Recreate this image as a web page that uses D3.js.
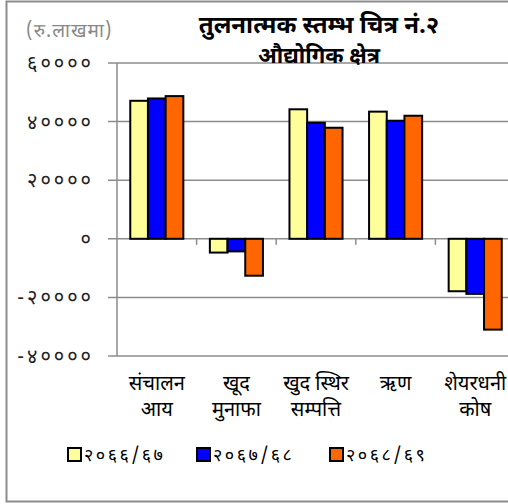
<!DOCTYPE html>
<html>
<head>
<meta charset="utf-8">
<title>तुलनात्मक स्तम्भ चित्र</title>
<script src="https://d3js.org/d3.v7.min.js"></script>
<style>
body { margin: 0; background: #fff; }
svg text { font-family: "Noto Sans Devanagari", "Lohit Devanagari", "FreeSans", "Noto Sans", sans-serif; }
.grid line { stroke: #8c8c8c; stroke-width: 1.5; }
.bar { stroke: #000; stroke-width: 2; }
</style>
</head>
<body>
<svg width="508" height="504"></svg>
<script>

var categories = [
  ["संचालन", "आय"],
  ["खूद", "मुनाफा"],
  ["खुद स्थिर", "सम्पत्ति"],
  ["ऋण", ""],
  ["शेयरधनी", "कोष"]
];
var seriesNames = ["२०६६/६७", "२०६७/६८", "२०६८/६९"];
var series1 = [47100, -4700, 44200, 43400, -17900];
var series2 = [47900, -4300, 39600, 40300, -18800];
var series3 = [48700, -12600, 37900, 42000, -31000];
var colors = ["#ffff99", "#0000ff", "#ff6600"];
var tickValues = [-40000, -20000, 0, 20000, 40000, 60000];
var tickLabels = ["-४००००", "-२००००", "०", "२००००", "४००००", "६००००"];

var svg = d3.select("svg");

// outer frame (right edge is cut off)
svg.append("rect")
    .attr("x", 6.5).attr("y", 1.5)
    .attr("width", 520).attr("height", 500)
    .attr("fill", "none")
    .attr("stroke", "#8c8c8c")
    .attr("stroke-width", 2);

var plotLeft = 117, plotRight = 515, plotTop = 63, plotBottom = 356;

var y = d3.scaleLinear().domain([-40000, 60000]).range([plotBottom, plotTop]);
var x0 = d3.scaleBand().domain(d3.range(categories.length)).range([plotLeft, plotRight]);
var bw = x0.bandwidth() / 4.5;
var x1 = d3.scaleBand().domain(d3.range(3)).range([0.75 * bw, 3.75 * bw]);

// gridlines
svg.append("g").attr("class", "grid")
  .selectAll("line").data(tickValues).enter().append("line")
    .attr("x1", plotLeft - 9).attr("x2", plotRight)
    .attr("y1", function(d) { return y(d); })
    .attr("y2", function(d) { return y(d); });

// y axis line
svg.append("line")
    .attr("x1", plotLeft).attr("x2", plotLeft)
    .attr("y1", plotTop).attr("y2", plotBottom)
    .attr("stroke", "#8c8c8c").attr("stroke-width", 1.5);

// tick labels
svg.append("g")
  .selectAll("text").data(tickValues).enter().append("text")
    .attr("x", 94)
    .attr("y", function(d) { return y(d); })
    .attr("dy", "0.35em")
    .attr("text-anchor", "end")
    .attr("font-size", 20)
    .attr("letter-spacing", 3)
    .attr("fill", "#222")
    .text(function(d, i) { return tickLabels[i]; });

// bars
var allSeries = [series1, series2, series3];
var groups = svg.append("g")
  .selectAll("g").data(categories).enter().append("g")
    .attr("transform", function(d, i) { return "translate(" + x0(i) + ",0)"; });

groups.selectAll("rect")
    .data(function(d, i) { return allSeries.map(function(s, k) { return {k: k, v: s[i]}; }); })
  .enter().append("rect")
    .attr("class", "bar")
    .attr("x", function(d) { return x1(d.k); })
    .attr("width", x1.bandwidth())
    .attr("y", function(d) { return y(Math.max(0, d.v)); })
    .attr("height", function(d) { return Math.abs(y(d.v) - y(0)); })
    .attr("fill", function(d) { return colors[d.k]; });

// category ticks on the zero line
svg.append("g")
  .selectAll("line").data(d3.range(1, categories.length)).enter().append("line")
    .attr("x1", function(d) { return x0(d); })
    .attr("x2", function(d) { return x0(d); })
    .attr("y1", y(0)).attr("y2", y(0) + 6)
    .attr("stroke", "#8c8c8c").attr("stroke-width", 1.5);

// category labels
var cl = svg.append("g")
  .selectAll("text").data(categories).enter().append("text")
    .attr("text-anchor", "middle")
    .attr("font-size", 20)
    .attr("fill", "#000");
cl.append("tspan")
    .attr("x", function(d, i) { return x0(i) + x0.bandwidth() / 2; })
    .attr("y", 390)
    .text(function(d) { return d[0]; });
cl.append("tspan")
    .attr("x", function(d, i) { return x0(i) + x0.bandwidth() / 2; })
    .attr("y", 416)
    .text(function(d) { return d[1]; });

// title
svg.append("text")
    .attr("x", 319).attr("y", 33)
    .attr("text-anchor", "middle")
    .attr("font-size", 24).attr("font-weight", "bold")
    .text("तुलनात्मक स्तम्भ चित्र नं.२");
svg.append("text")
    .attr("x", 319).attr("y", 63)
    .attr("text-anchor", "middle")
    .attr("font-size", 22).attr("font-weight", "bold")
    .text("औद्योगिक क्षेत्र");
svg.append("text")
    .attr("x", 26).attr("y", 37)
    .attr("font-size", 19)
    .attr("letter-spacing", 1)
    .attr("fill", "#888")
    .text("(रु.लाखमा)");

// legend
var legX = [68, 197, 330];
var leg = svg.append("g")
  .selectAll("g").data(seriesNames).enter().append("g")
    .attr("transform", function(d, i) { return "translate(" + legX[i] + ",448)"; });
leg.append("rect")
    .attr("width", 13).attr("height", 13)
    .attr("fill", function(d, i) { return colors[i]; })
    .attr("stroke", "#000").attr("stroke-width", 2);
leg.append("text")
    .attr("x", 16).attr("y", 7)
    .attr("dy", "0.35em")
    .attr("font-size", 18)
    .attr("letter-spacing", 2.5)
    .text(function(d) { return d; });

</script>
</body>
</html>
